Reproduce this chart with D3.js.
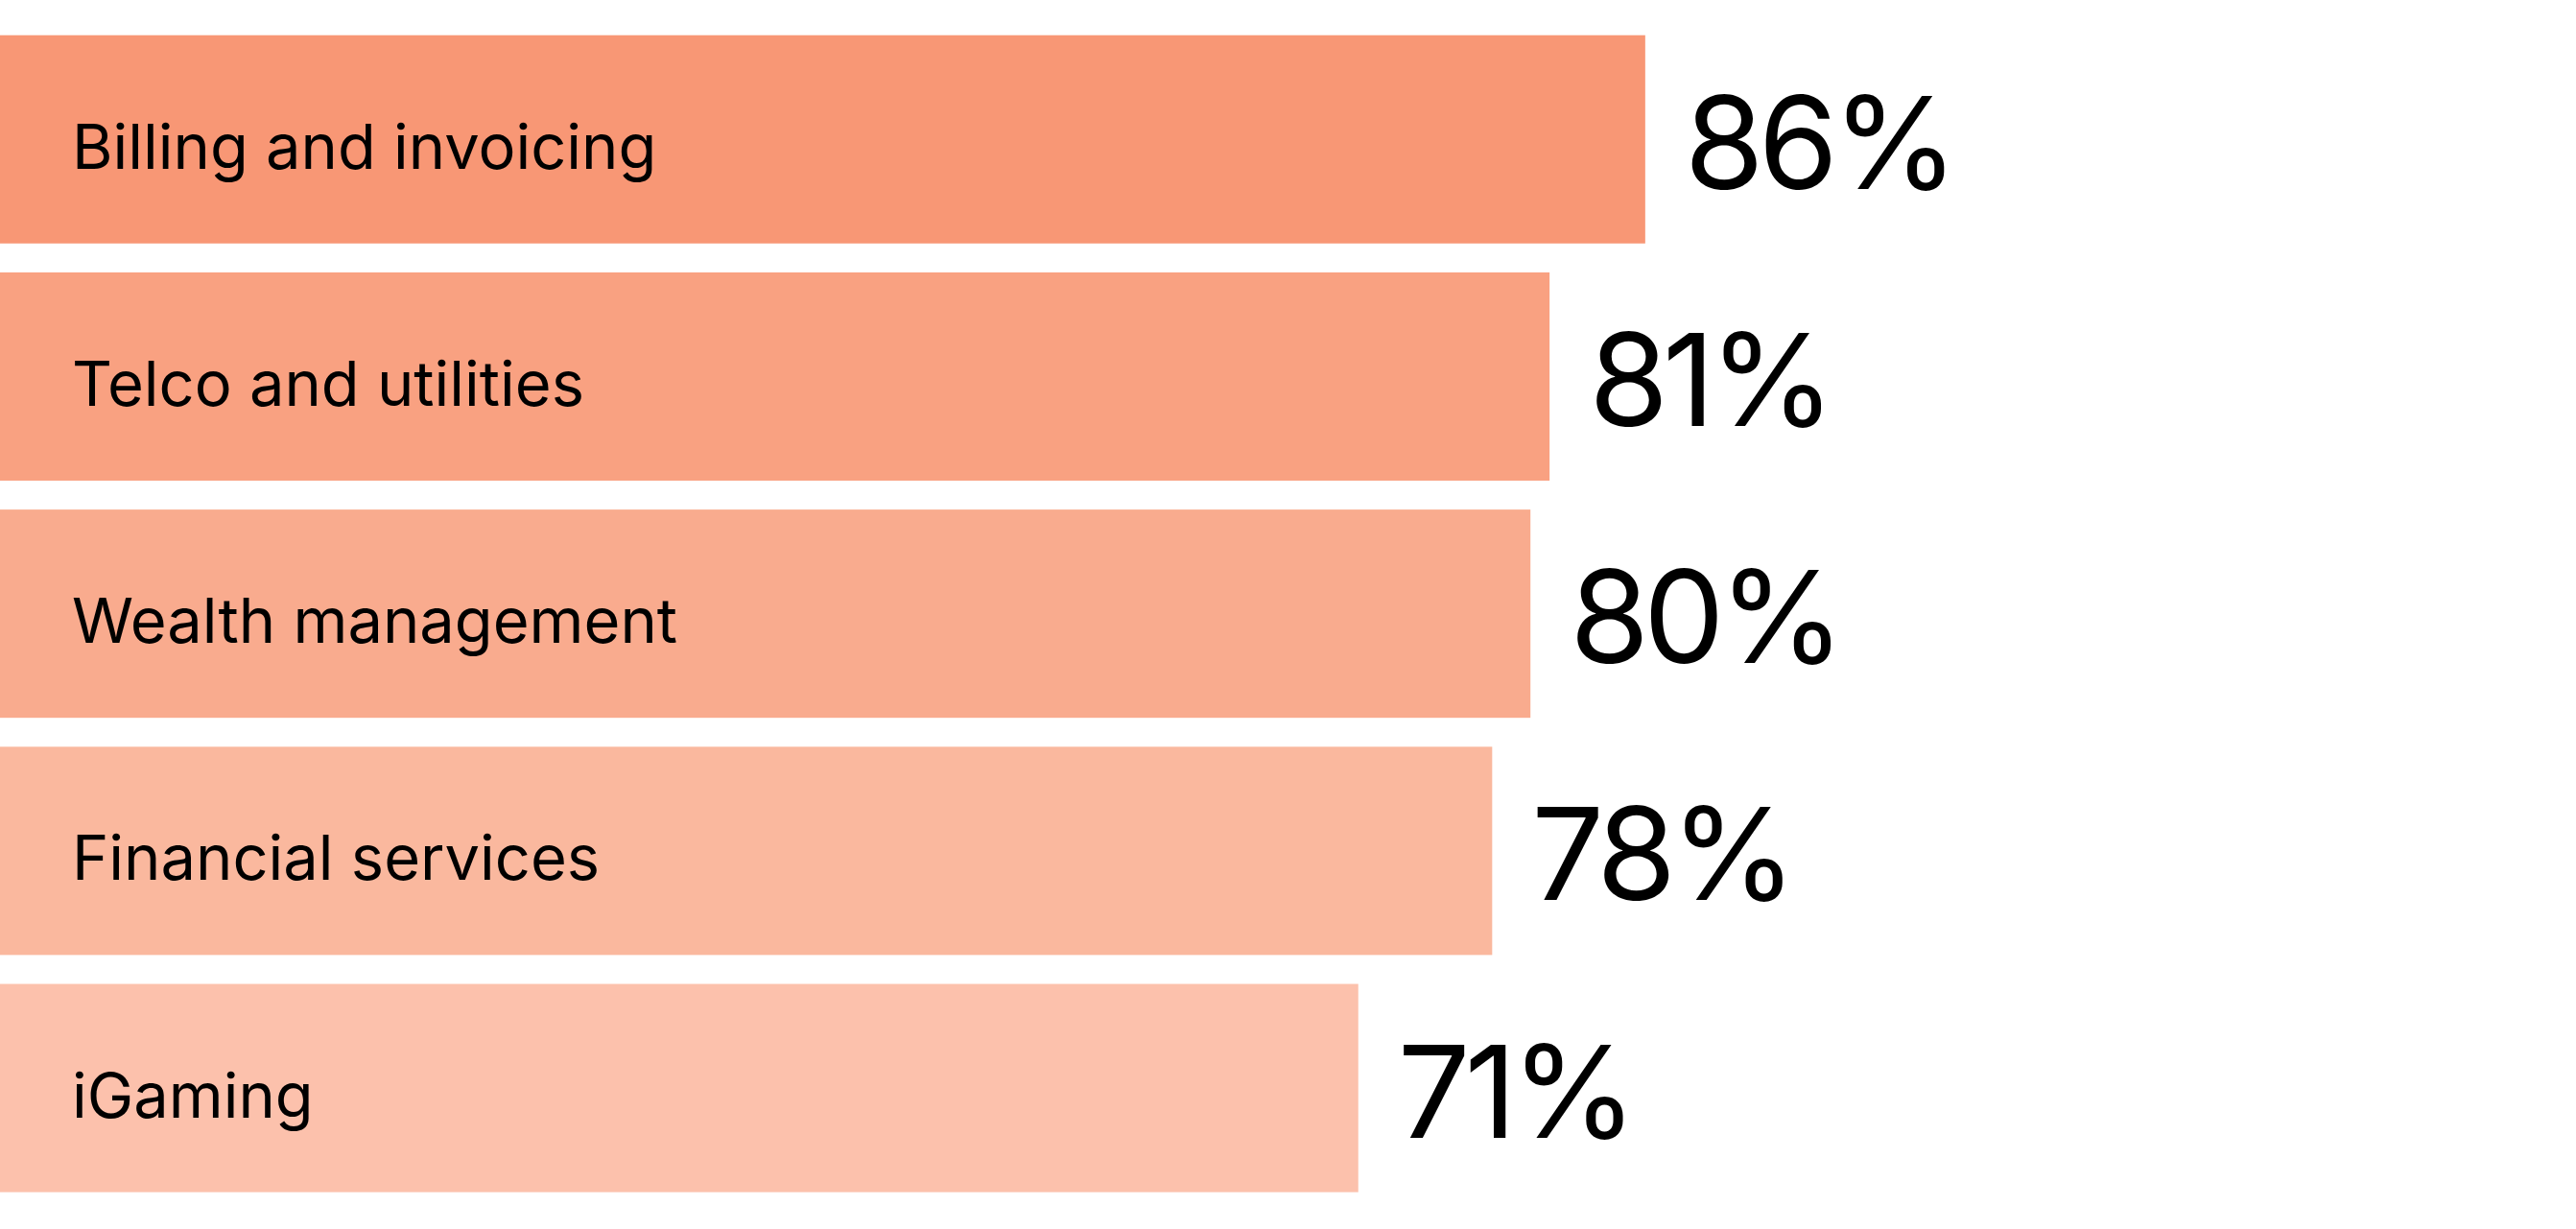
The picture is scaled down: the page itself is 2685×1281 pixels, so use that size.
<!DOCTYPE html>
<html>
<head>
<meta charset="utf-8">
<script src="https://cdn.jsdelivr.net/npm/d3@7"></script>
<style>
  html, body { margin: 0; padding: 0; background: #ffffff; }
  svg { display: block; }
</style>
</head>
<body>
<svg id="chart" width="2685" height="1281"></svg>
<script>
const categories = ["Billing and invoicing", "Telco and utilities", "Wealth management", "Financial services", "iGaming"];
const values = [86, 81, 80, 78, 71];
const colors = ["#f89775", "#f9a181", "#f9ab8e", "#fab89e", "#fcc1ac"];

const svg = d3.select("#chart");
const x = d3.scaleLinear().domain([0, 100]).range([0, 1994]);
const y = d3.scaleBand().domain(categories).range([36.7, 1242.6]).paddingInner(0.122).paddingOuter(0);

const data = categories.map((c, i) => ({ c, v: values[i], color: colors[i] }));

const g = svg.append("g");
g.selectAll("rect").data(data).join("rect")
  .attr("x", x(0))
  .attr("y", d => y(d.c))
  .attr("width", d => x(d.v) - x(0))
  .attr("height", y.bandwidth())
  .attr("fill", d => d.color);

g.selectAll("text.cat").data(data).join("text")
  .attr("class", "cat")
  .attr("x", 75)
  .attr("y", d => y(d.c) + 139)
  .attr("font-family", "Inter, 'Noto Sans', sans-serif")
  .attr("font-size", 65)
  .attr("fill", "#000")
  .text(d => d.c);

g.selectAll("text.val").data(data).join("text")
  .attr("class", "val")
  .attr("x", d => x(d.v) + 41)
  .attr("y", d => y(d.c) + 160)
  .attr("font-family", "Inter, 'Noto Sans', sans-serif")
  .attr("font-size", 134)
  .attr("letter-spacing", -6)
  .attr("fill", "#000")
  .text(d => d.v + "%");
</script>
</body>
</html>
